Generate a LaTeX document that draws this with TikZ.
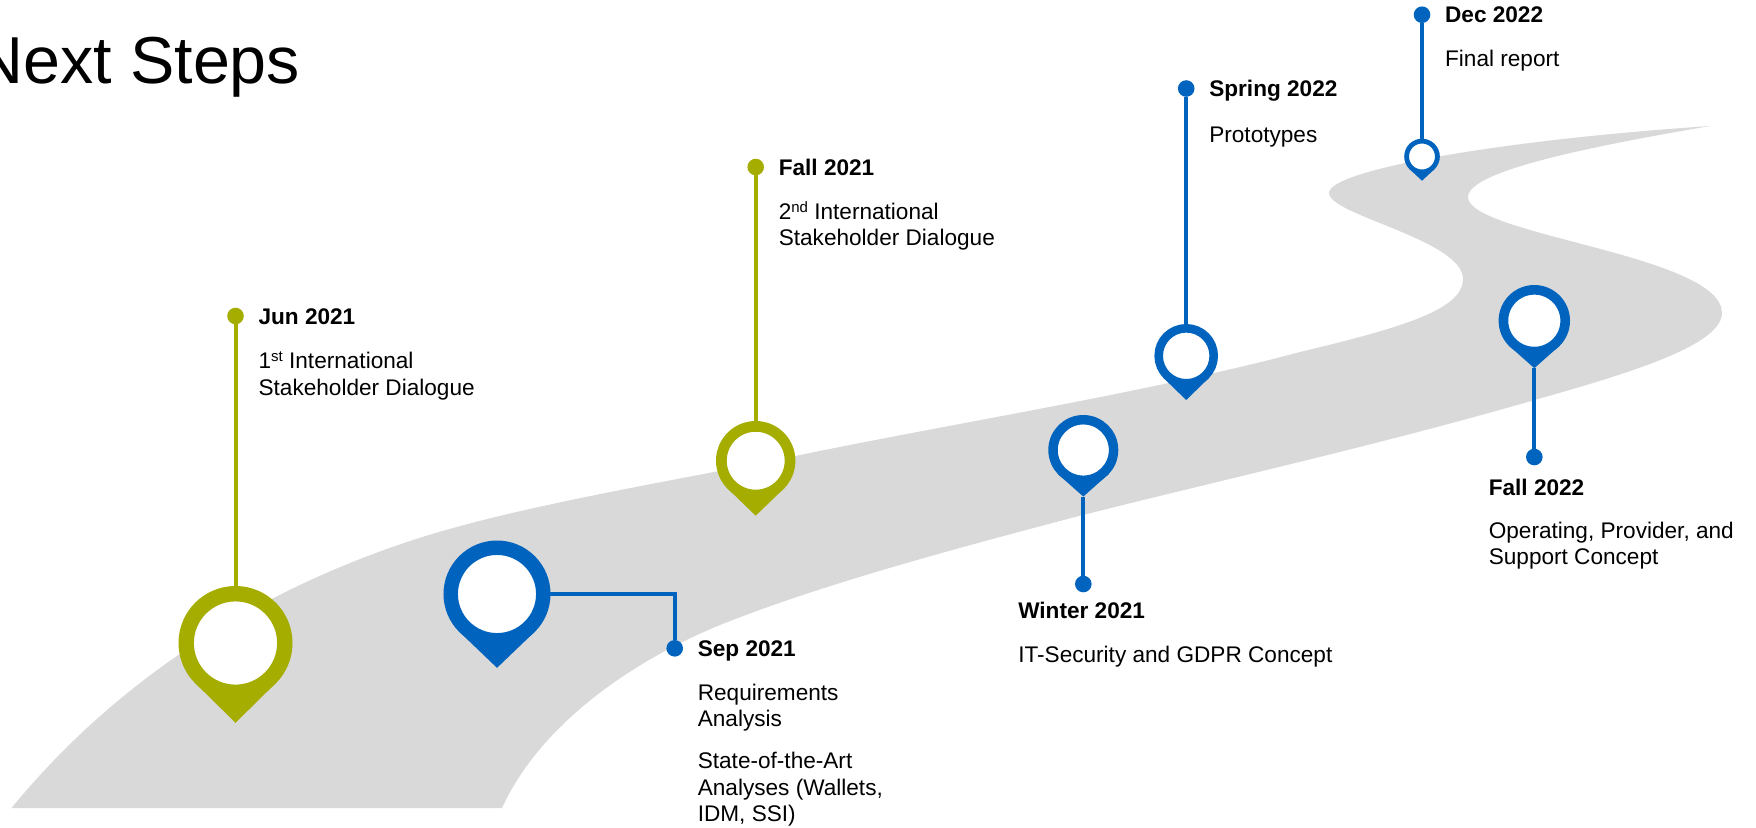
\documentclass[tikz,border=0pt]{standalone}
\usepackage{fontspec}
\setmainfont{Liberation Sans}
\usepackage{xcolor}
\usetikzlibrary{positioning}
\definecolor{roadgrey}{HTML}{D9D9D9}
\definecolor{pinolive}{HTML}{A5AD00}
\definecolor{pinblue}{HTML}{0063BE}
\tikzstyle{pinhead} = [circle, fill=white, inner sep=0pt, outer sep=0pt]
\tikzstyle{dot} = [circle, minimum size=8.3pt, inner sep=0pt, outer sep=0pt]
\tikzstyle{date} = [inner sep=0pt, outer sep=0pt, text height=8pt, text depth=0pt, font=\fontsize{11.3}{13.3}\selectfont\bfseries]
\tikzstyle{note} = [inner sep=0pt, outer sep=0pt, align=left, anchor=north west, font=\fontsize{11.3}{13.3}\selectfont, execute at begin node=\strut]
\tikzstyle{link} = [line width=2pt]
\newcommand{\ordinal}[1]{\raisebox{0.32em}{\fontsize{7.5}{8}\selectfont #1}}
% name, x, y, outer radius, colour, tip distance
\newcommand{\pinmark}[6]{
	\coordinate (#1tip) at ({#2},{#3+#6*#4});
	\fill [#5] ({#2-0.72*#4},{#3+0.69*#4}) -- (#1tip) -- ({#2+0.72*#4},{#3+0.69*#4}) -- cycle;
	\node (#1) [pinhead, draw=#5, minimum size={0.865*#4 pt}, line width={0.135*#4 pt}] at (#2,#3) {};
}

\begin{document}
\begin{tikzpicture}[x=0.5pt, y=-0.5pt]
	\useasboundingbox (0,0) rectangle (1756,827);
	%road
	\fill [roadgrey] (11.5,808) .. controls (100,700) and (230,600) .. (413,540)
		.. controls (520,505) and (680,480) .. (800,455)
		.. controls (960,422) and (1150,392) .. (1300,352)
		.. controls (1400,328) and (1463,310) .. (1463,279)
		.. controls (1463,240) and (1329,215) .. (1329,193)
		.. controls (1329,170) and (1500,140) .. (1710,126)
		.. controls (1600,145) and (1468,170) .. (1468,197)
		.. controls (1468,235) and (1722,255) .. (1722,313)
		.. controls (1722,345) and (1630,373) .. (1538,399)
		.. controls (1380,445) and (1200,485) .. (1075,517)
		.. controls (950,550) and (820,585) .. (720,625)
		.. controls (630,662) and (540,725) .. (502,808) -- cycle;
	\node (title) [anchor=base west, inner sep=0pt, font=\fontsize{33.2}{40}\selectfont] at (-25,83) {Next Steps};
	%pins
	\pinmark{pin1}{235.5}{643}{57}{pinolive}{1.4}
	\pinmark{pin2}{497}{594}{53.5}{pinblue}{1.38}
	\pinmark{pin3}{755.7}{460.7}{39.7}{pinolive}{1.385}
	\pinmark{pin4}{1083.3}{450}{35}{pinblue}{1.33}
	\pinmark{pin5}{1186.2}{355.8}{31.8}{pinblue}{1.39}
	\pinmark{pin6}{1534.3}{320.7}{35.7}{pinblue}{1.33}
	\pinmark{pin7}{1422}{156.5}{17.8}{pinblue}{1.36}
	%dots
	\node (dot1) [dot, fill=pinolive] at (235.5,316) {};
	\node (dot2) [dot, fill=pinblue] at (674.7,648.3) {};
	\node (dot3) [dot, fill=pinolive] at (755.7,167) {};
	\node (dot4) [dot, fill=pinblue] at (1083.3,584) {};
	\node (dot5) [dot, fill=pinblue] at (1186.2,88.5) {};
	\node (dot6) [dot, fill=pinblue] at (1534.3,457) {};
	\node (dot7) [dot, fill=pinblue] at (1422,14.7) {};
	%texts
	\node (date1) [date, right=7.4pt of dot1] {Jun 2021};
	\node (note1) [note, below=13.9pt of date1.south west, anchor=north west] {1\ordinal{st} International\\Stakeholder Dialogue};
	\node (date2) [date, right=7.4pt of dot2] {Sep 2021};
	\node (note2) [note, below=13.7pt of date2.south west, anchor=north west] {Requirements\\Analysis\\[7.7pt]State-of-the-Art\\Analyses (Wallets,\\IDM, SSI)};
	\node (date3) [date, right=7.4pt of dot3] {Fall 2021};
	\node (note3) [note, below=13.1pt of date3.south west, anchor=north west] {2\ordinal{nd} International\\Stakeholder Dialogue};
	\node (date4) [date, below=9.25pt of dot4, anchor=west, xshift=-32.5pt] {Winter 2021};
	\node (note4) [note, below=12.7pt of date4.south west, anchor=north west] {IT-Security and GDPR Concept};
	\node (date5) [date, right=7.4pt of dot5] {Spring 2022};
	\node (note5) [note, below=13.9pt of date5.south west, anchor=north west] {Prototypes};
	\node (date6) [date, below=11pt of dot6, anchor=west, xshift=-22.75pt] {Fall 2022};
	\node (note6) [note, below=13.2pt of date6.south west, anchor=north west] {Operating, Provider, and\\Support Concept};
	\node (date7) [date, right=7.4pt of dot7] {Dec 2022};
	\node (note7) [note, below=12.7pt of date7.south west, anchor=north west] {Final report};
	%lines
	\draw [link, pinolive] (dot1) -- (pin1);
	\draw [link, pinblue] (pin2) -| (dot2);
	\draw [link, pinolive] (dot3) -- (pin3);
	\draw [link, pinblue] (pin4tip) -- (dot4);
	\draw [link, pinblue] (dot5) -- (pin5);
	\draw [link, pinblue] (pin6tip) -- (dot6);
	\draw [link, pinblue] (dot7) -- (pin7);
\end{tikzpicture}
\end{document}
